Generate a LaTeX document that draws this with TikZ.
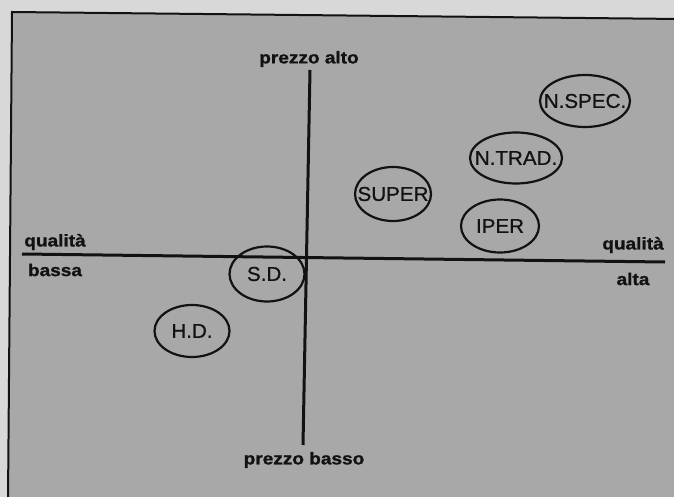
\documentclass[tikz,border=0pt]{standalone}
\usepackage{fontspec}
\setmainfont{Liberation Sans}
\newfontfamily\axfont[FakeStretch=1.12,FakeBold=1.2]{Liberation Sans}
\newfontfamily\elfont[FakeStretch=1.03,FakeBold=0.8]{Liberation Sans}
\usetikzlibrary{shapes.geometric}
\definecolor{paper}{RGB}{216,216,216}
\definecolor{panel}{RGB}{168,168,168}
\definecolor{ink}{RGB}{18,18,18}
\newcommand{\zerowide}[1]{\makebox[0pt]{#1}}
\begin{document}
\begin{tikzpicture}[x=1pt,y=-1pt,
  axlabel/.style={font=\axfont\bfseries\fontsize{17}{17}\selectfont, text=ink, inner sep=0pt},
  firm/.style={ellipse, draw=ink, line width=2.2pt, inner sep=0pt, font=\elfont\fontsize{20}{20}\selectfont, text=ink},
  axisline/.style={draw=ink, line width=3pt},
  framebox/.style={draw=ink, line width=2pt, fill=panel}]
\useasboundingbox[fill=paper] (0,0) rectangle (674,497);
% panel
\path[framebox] (12,12) -- (680,19) -- (680,500) -- (8,500) -- cycle;
% axes
\coordinate (top) at (310,70);
\coordinate (bottom) at (303,445);
\coordinate (left) at (22,254);
\coordinate (right) at (665,262);
\draw[axisline] (top) -- (bottom);
\draw[axisline] (left) -- (right);
% axis labels
\node[axlabel] (pa) at (309,59) {prezzo alto};
\node[axlabel] (pb) at (304,460) {prezzo basso};
\node[axlabel] (ql) at (55,242) {qualità};
\node[axlabel] (bl) at (55,270) {bassa};
\node[axlabel] (qr) at (633,245) {qualità};
\node[axlabel] (ar) at (633,279) {alta};
% ellipses
\node[firm, minimum width=90pt, minimum height=52pt] (nspec) at (585,101) {\zerowide{N.SPEC.}};
\node[firm, minimum width=92pt, minimum height=51pt] (ntrad) at (516,158) {\zerowide{N.TRAD.}};
\node[firm, minimum width=76pt, minimum height=54pt] (super) at (393,194) {\zerowide{SUPER}};
\node[firm, minimum width=78pt, minimum height=53pt] (iper) at (500,226) {\zerowide{IPER}};
\node[firm, minimum width=75pt, minimum height=55pt] (sd) at (267,274) {\zerowide{S.D.}};
\node[firm, minimum width=75pt, minimum height=52pt] (hd) at (192,331) {\zerowide{H.D.}};
\end{tikzpicture}
\end{document}
